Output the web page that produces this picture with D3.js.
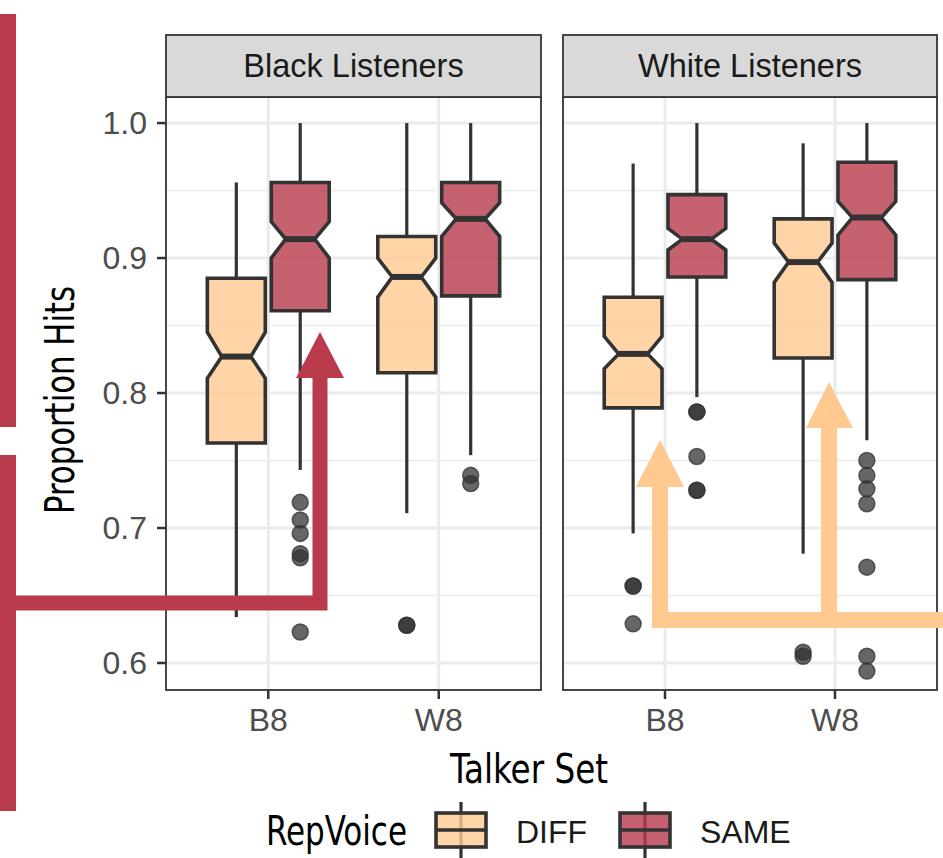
<!DOCTYPE html>
<meta charset="utf-8">
<script src="https://d3js.org/d3.v7.min.js"></script>
<style>
  body { margin: 0; background: #fff; }
  svg { display: block; }
</style>
<div id="chart"></div>
<script>
// facets / categories
var facets = ["Black Listeners", "White Listeners"];
var talkerSets = ["B8", "W8"];
var repVoices = ["DIFF", "SAME"];
var yTicks = [0.6, 0.7, 0.8, 0.9, 1.0];

// box stats, order: facet > talker set > rep voice
var boxFacet   = [0, 0, 0, 0, 1, 1, 1, 1];
var boxTalker  = ["B8", "B8", "W8", "W8", "B8", "B8", "W8", "W8"];
var boxVoice   = ["DIFF", "SAME", "DIFF", "SAME", "DIFF", "SAME", "DIFF", "SAME"];
var whiskerLow = [0.634, 0.743, 0.711, 0.754, 0.696, 0.797, 0.681, 0.765];
var q1         = [0.763, 0.861, 0.815, 0.872, 0.789, 0.886, 0.826, 0.884];
var median     = [0.827, 0.914, 0.886, 0.929, 0.829, 0.914, 0.897, 0.930];
var q3         = [0.885, 0.956, 0.916, 0.956, 0.871, 0.947, 0.929, 0.971];
var whiskerHigh= [0.956, 1.000, 1.000, 1.000, 0.970, 1.000, 0.985, 1.000];
var notchLow   = [0.811, 0.900, 0.871, 0.916, 0.818, 0.906, 0.882, 0.917];
var notchHigh  = [0.845, 0.927, 0.900, 0.941, 0.842, 0.922, 0.911, 0.942];
var outliers = [
  [],
  [0.719, 0.706, 0.696, 0.681, 0.678, 0.623],
  [0.628, 0.628],
  [0.739, 0.733],
  [0.657, 0.657, 0.629],
  [0.786, 0.786, 0.753, 0.728, 0.728],
  [0.608, 0.605],
  [0.750, 0.739, 0.729, 0.718, 0.671, 0.605, 0.594]
];

var fillColor = {DIFF: "#FFC990", SAME: "#B83A4B"};
var redArrow = "#B83A4B", peachArrow = "#FFC990";

var W = 943, H = 858;
var svg = d3.select("#chart").append("svg")
  .attr("width", W).attr("height", H)
  .style("font-family", "'Liberation Sans', Arial, sans-serif");

var narrow = "'Liberation Sans Narrow', 'DejaVu Sans Condensed', sans-serif";

// panel geometry
var panelX = [[166, 541], [563, 937]];
var stripTop = 35, panelTop = 97, panelBottom = 690;

var y = d3.scaleLinear().domain([0.58, 1.0193]).range([panelBottom, panelTop]);

var xs = panelX.map(function(r) {
  return d3.scalePoint().domain(talkerSets).range(r).padding(0.6);
});

facets.forEach(function(f, i) {
  var x = xs[i], x0 = panelX[i][0], x1 = panelX[i][1];
  var g = svg.append("g");

  // minor gridlines
  d3.range(0.65, 1.0, 0.1).forEach(function(v) {
    g.append("line").attr("x1", x0).attr("x2", x1)
      .attr("y1", y(v)).attr("y2", y(v))
      .attr("stroke", "#EBEBEB").attr("stroke-width", 1.6);
  });
  // major gridlines
  yTicks.forEach(function(v) {
    g.append("line").attr("x1", x0).attr("x2", x1)
      .attr("y1", y(v)).attr("y2", y(v))
      .attr("stroke", "#EBEBEB").attr("stroke-width", 3);
  });
  talkerSets.forEach(function(t) {
    g.append("line").attr("x1", x(t)).attr("x2", x(t))
      .attr("y1", panelTop).attr("y2", panelBottom)
      .attr("stroke", "#EBEBEB").attr("stroke-width", 3);
  });

  // panel border
  g.append("rect").attr("x", x0).attr("y", panelTop)
    .attr("width", x1 - x0).attr("height", panelBottom - panelTop)
    .attr("fill", "none").attr("stroke", "#333").attr("stroke-width", 1.8);

  // strip
  g.append("rect").attr("x", x0).attr("y", stripTop)
    .attr("width", x1 - x0).attr("height", panelTop - stripTop)
    .attr("fill", "#D9D9D9").attr("stroke", "#333").attr("stroke-width", 1.8);
  g.append("text").attr("x", (x0 + x1) / 2).attr("y", 77)
    .attr("text-anchor", "middle").attr("font-size", 32.5).attr("fill", "#1A1A1A")
    .text(f);

  // x ticks
  talkerSets.forEach(function(t) {
    g.append("line").attr("x1", x(t)).attr("x2", x(t))
      .attr("y1", panelBottom).attr("y2", panelBottom + 9)
      .attr("stroke", "#333").attr("stroke-width", 2.5);
    g.append("text").attr("x", x(t)).attr("y", 731)
      .attr("text-anchor", "middle").attr("font-size", 32).attr("fill", "#4D4D4D")
      .text(t);
  });
});

// y axis on first panel
yTicks.forEach(function(v) {
  svg.append("line").attr("x1", panelX[0][0] - 9).attr("x2", panelX[0][0])
    .attr("y1", y(v)).attr("y2", y(v))
    .attr("stroke", "#333").attr("stroke-width", 2.5);
  svg.append("text").attr("x", 147).attr("y", y(v) + 11)
    .attr("text-anchor", "end").attr("font-size", 32).attr("fill", "#4D4D4D")
    .text(d3.format(".1f")(v));
});

// boxes
var boxes = boxFacet.map(function(f, i) {
  return {facet: f, talker: boxTalker[i], voice: boxVoice[i],
    lo: whiskerLow[i], q1: q1[i], med: median[i], q3: q3[i], hi: whiskerHigh[i],
    nlo: notchLow[i], nhi: notchHigh[i], out: outliers[i]};
});

boxes.forEach(function(b) {
  var x = xs[b.facet];
  var step = x.step();
  var cx = x(b.talker) + (b.voice === "DIFF" ? -1 : 1) * 0.1875 * step;
  var hw = 0.17 * step;
  var xl = cx - hw, xr = cx + hw, ins = hw / 2;
  var g = svg.append("g");

  g.append("line").attr("x1", cx).attr("x2", cx)
    .attr("y1", y(b.q3)).attr("y2", y(b.hi))
    .attr("stroke", "#333").attr("stroke-width", 3.2);
  g.append("line").attr("x1", cx).attr("x2", cx)
    .attr("y1", y(b.q1)).attr("y2", y(b.lo))
    .attr("stroke", "#333").attr("stroke-width", 3.2);

  var pts = [
    [xl, y(b.q3)], [xl, y(b.nhi)], [xl + ins, y(b.med)], [xl, y(b.nlo)], [xl, y(b.q1)],
    [xr, y(b.q1)], [xr, y(b.nlo)], [xr - ins, y(b.med)], [xr, y(b.nhi)], [xr, y(b.q3)]
  ];
  g.append("path").attr("d", d3.line()(pts) + "Z")
    .attr("fill", fillColor[b.voice]).attr("fill-opacity", 0.8)
    .attr("stroke", "#333").attr("stroke-width", 3.6).attr("stroke-linejoin", "miter");
  g.append("line").attr("x1", xl + ins).attr("x2", xr - ins)
    .attr("y1", y(b.med)).attr("y2", y(b.med))
    .attr("stroke", "#333").attr("stroke-width", 6);

  g.selectAll("circle").data(b.out).enter().append("circle")
    .attr("cx", cx).attr("cy", function(d) { return y(d); })
    .attr("r", 8)
    .attr("fill", "#333").attr("fill-opacity", 0.75)
    .attr("stroke", "#333").attr("stroke-opacity", 0.75).attr("stroke-width", 1.5);
});

// axis titles (condensed face, fitted to the widths in the figure)
svg.append("text").attr("transform", "translate(74,400) rotate(-90)")
  .attr("text-anchor", "middle").attr("font-size", 41).attr("font-family", narrow)
  .attr("fill", "#000")
  .attr("textLength", 228).attr("lengthAdjust", "spacingAndGlyphs")
  .text("Proportion Hits");
svg.append("text").attr("x", 529).attr("y", 783)
  .attr("text-anchor", "middle").attr("font-size", 41).attr("font-family", narrow)
  .attr("fill", "#000")
  .attr("textLength", 158).attr("lengthAdjust", "spacingAndGlyphs")
  .text("Talker Set");

// legend
svg.append("text").attr("x", 266).attr("y", 845)
  .attr("font-size", 41).attr("font-family", narrow).attr("fill", "#000")
  .attr("textLength", 141).attr("lengthAdjust", "spacingAndGlyphs")
  .text("RepVoice");
var keyX = [461, 645], labelX = [516, 700];
repVoices.forEach(function(v, i) {
  var g = svg.append("g");
  g.append("line").attr("x1", keyX[i]).attr("x2", keyX[i]).attr("y1", 802).attr("y2", 858)
    .attr("stroke", "#333").attr("stroke-width", 3.2);
  g.append("rect").attr("x", keyX[i] - 25).attr("y", 813).attr("width", 50).attr("height", 34)
    .attr("fill", fillColor[v]).attr("fill-opacity", 0.8)
    .attr("stroke", "#333").attr("stroke-width", 3.6);
  g.append("line").attr("x1", keyX[i] - 25).attr("x2", keyX[i] + 25).attr("y1", 830).attr("y2", 830)
    .attr("stroke", "#333").attr("stroke-width", 3.6);
  g.append("text").attr("x", labelX[i]).attr("y", 843)
    .attr("font-size", 32).attr("fill", "#1A1A1A").text(v);
});

// annotation arrows drawn on top
var ann = svg.append("g").attr("fill", "none").attr("stroke-linejoin", "miter");
ann.append("path").attr("d", "M-30,22H8V419H-30").attr("stroke", redArrow).attr("stroke-width", 16);
ann.append("path").attr("d", "M-30,463H8V803H-30").attr("stroke", redArrow).attr("stroke-width", 16);
ann.append("path").attr("d", "M8,603H320V376").attr("stroke", redArrow).attr("stroke-width", 15);
ann.append("path").attr("d", "M296,378L344,378L320,332Z").attr("fill", redArrow);

ann.append("path").attr("d", "M660,485V620H970").attr("stroke", peachArrow).attr("stroke-width", 16);
ann.append("path").attr("d", "M829,426V620").attr("stroke", peachArrow).attr("stroke-width", 16);
ann.append("path").attr("d", "M636,487L684,487L660,440Z").attr("fill", peachArrow);
ann.append("path").attr("d", "M806,428L853,428L829,382Z").attr("fill", peachArrow);
</script>
